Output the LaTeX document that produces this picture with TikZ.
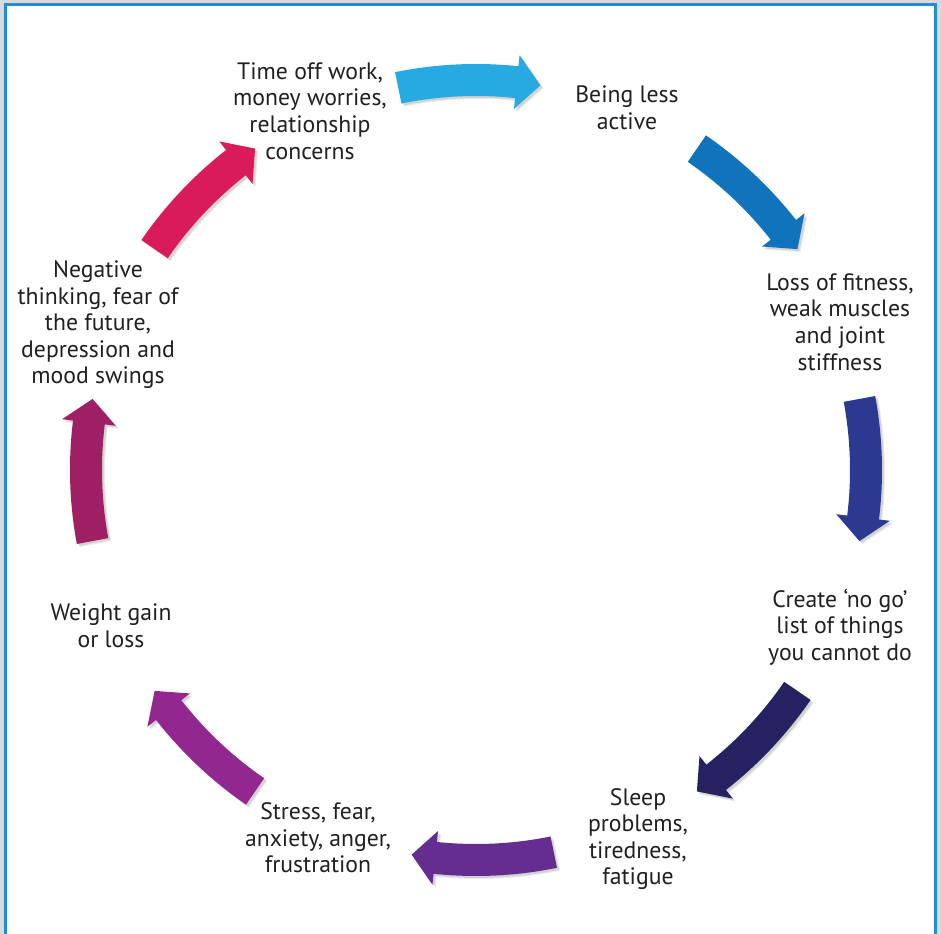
\documentclass[tikz,border=0pt]{standalone}
\usepackage{fontspec}
\setmainfont{PT Sans}
\usepackage{xcolor}
\usetikzlibrary{calc}

\definecolor{frameblue}{RGB}{36,140,210}
\definecolor{txtgray}{RGB}{35,31,32}
\definecolor{arrA}{RGB}{39,169,225}
\definecolor{arrB}{RGB}{17,115,188}
\definecolor{arrC}{RGB}{43,57,144}
\definecolor{arrD}{RGB}{38,34,98}
\definecolor{arrE}{RGB}{102,45,145}
\definecolor{arrF}{RGB}{146,39,143}
\definecolor{arrG}{RGB}{158,31,99}
\definecolor{arrH}{RGB}{217,27,92}

% one curved arrow of the cycle, centred on angle #1 (clockwise)
\newcommand{\cycpath}[1]{(#1+10.5:406) arc[start angle=#1+10.5, end angle=#1-7, radius=406]
  -- (#1-7:417) -- (#1-10.5:390) -- (#1-7:363) -- (#1-7:374)
  arc[start angle=#1-7, end angle=#1+10.5, radius=374] -- cycle}

\begin{document}
\begin{tikzpicture}[x=0.02cm, y=0.02cm,
  lbl/.style={align=center, text=txtgray, inner sep=0pt,
    font=\fontsize{13.5}{15.1}\selectfont}]

  % Page and frame
  \useasboundingbox (0,0) rectangle (941,934);
  \fill[gray!30] (0,0) rectangle (941,934);
  \fill[white] (5.5,0) rectangle (935.5,929.5);
  \draw[frameblue, line width=0.05cm] (5.5,0) -- (5.5,929.5) -- (935.5,929.5) -- (935.5,0);

  % --- Arrows round the cycle ---
  \coordinate (C) at (476,464);
  \foreach \a/\col in {91/arrA, 45/arrB, 0/arrC, -45/arrD,
                       -89/arrE, -135/arrF, 180/arrG, 135/arrH} {
    \begin{scope}[shift={(C)}]
      \fill[black, opacity=0.08, shift={(3,-3)}] \cycpath{\a};
      \fill[black, opacity=0.10, shift={(2,-2)}] \cycpath{\a};
      \fill[\col] \cycpath{\a};
    \end{scope}
  }

  % --- Labels ---
  \node[lbl] (timeoff)    at (310,823) {Time off work,\\money worries,\\relationship\\concerns};
  \node[lbl] (lessactive) at (627,826) {Being less\\active};
  \node[lbl] (fitness)    at (840,612) {Loss of fitness,\\weak muscles\\and joint\\stiffness};
  \node[lbl] (nogo)       at (840,307) {Create ‘no go’\\list of things\\you cannot do};
  \node[lbl] (sleep)      at (638,95)  {Sleep\\problems,\\tiredness,\\fatigue};
  \node[lbl] (stress)     at (318,96)  {Stress, fear,\\anxiety, anger,\\frustration};
  \node[lbl] (weight)     at (111,308) {Weight gain\\or loss};
  \node[lbl] (negative)   at (98,609)  {Negative\\thinking, fear of\\the future,\\depression and\\mood swings};

\end{tikzpicture}
\end{document}
